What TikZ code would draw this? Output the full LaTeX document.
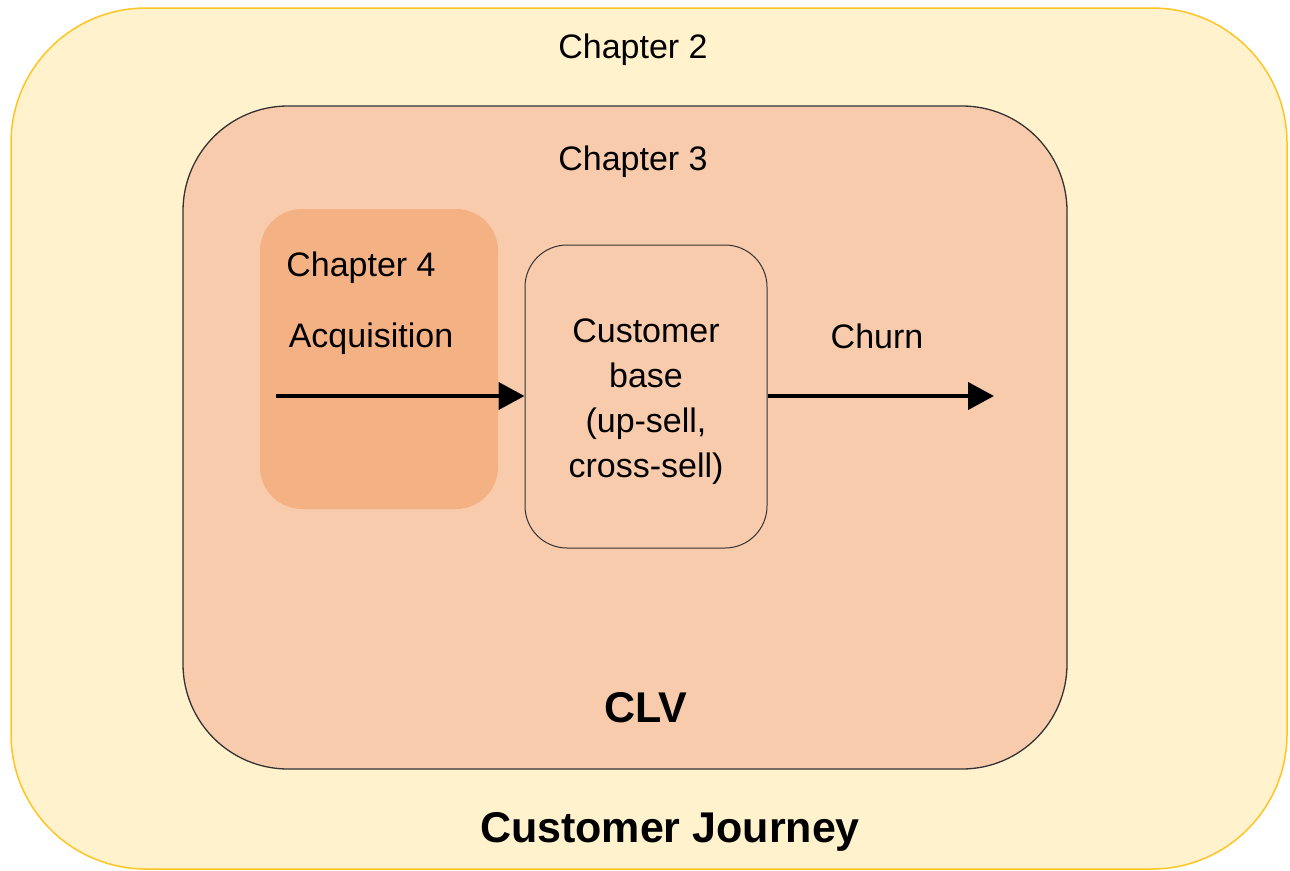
\documentclass[tikz,border=0pt]{standalone}
\usepackage{fontspec}
\setmainfont{Liberation Sans}
\usetikzlibrary{arrows.meta}
\definecolor{journeyfill}{HTML}{FFF2CC}
\definecolor{journeyline}{HTML}{FFC524}
\definecolor{clvfill}{HTML}{F8CBAD}
\definecolor{acqfill}{HTML}{F4B183}
\definecolor{edgegray}{HTML}{333333}
\tikzset{
  lbl/.style={font=\fontsize{34}{45}\selectfont, inner sep=0pt, align=center},
  bold lbl/.style={font=\fontsize{43}{50}\selectfont\bfseries, inner sep=0pt},
  flow/.style={line width=4pt, -{Triangle[length=26pt, width=27pt]}},
}
\begin{document}
\begin{tikzpicture}[x=1pt, y=-1pt]
\useasboundingbox (0,0) rectangle (1290,870);
% outer frame: customer journey
\draw[journeyline, fill=journeyfill, line width=1.5pt, rounded corners=135pt]
  (11,8) rectangle (1287,869);
% CLV frame
\draw[edgegray, fill=clvfill, line width=1.3pt, rounded corners=105pt]
  (183,106) rectangle (1067,769);
% acquisition area
\fill[acqfill, rounded corners=42pt] (260,209) rectangle (498,509);
% customer base box
\node[draw=edgegray, fill=clvfill, line width=1pt, rounded corners=42pt,
      minimum width=242pt, minimum height=303pt, inner sep=0pt]
  (base) at (646,396.5) {};
\node[lbl] (basetxt) at (646,402) {Customer\\base\\(up-sell,\\cross-sell)};

\node[lbl] (ch2) at (633,50) {Chapter 2};
\node[lbl] (ch3) at (633,162) {Chapter 3};
\node[lbl] (ch4) at (361,268) {Chapter 4};
\node[lbl] (acq) at (371,339) {Acquisition};
\node[lbl] (churn) at (877,336) {Churn};
\node[bold lbl] (clv) at (646,708) {CLV};
\node[bold lbl] (cj) at (670,832) {Customer Journey};

\coordinate (acqstart) at (276,396);
\coordinate (churnend) at (994,396);
\draw[flow] (acqstart) -- (base.west |- acqstart);
\draw[flow] (base.east |- churnend) -- (churnend);
\end{tikzpicture}
\end{document}
